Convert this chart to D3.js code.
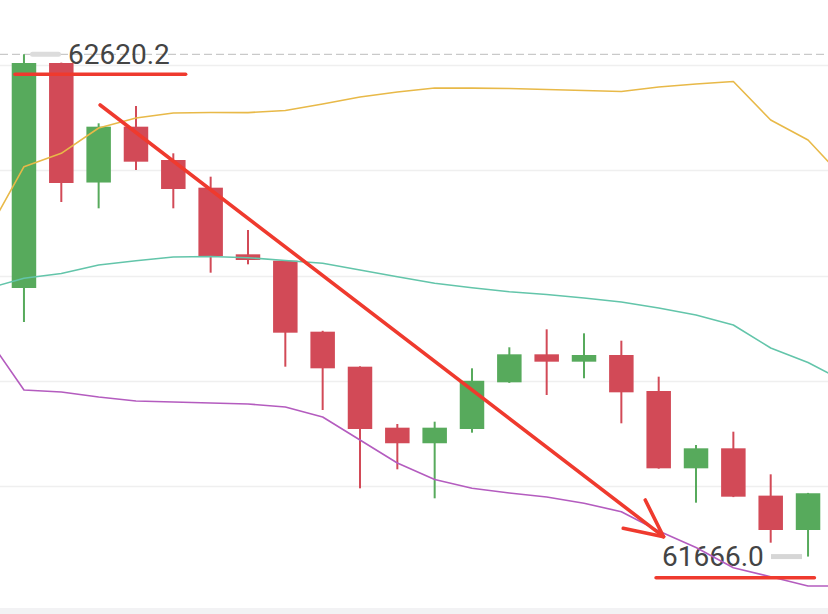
<!DOCTYPE html>
<html>
<head>
<meta charset="utf-8">
<script src="https://cdn.jsdelivr.net/npm/d3@7/dist/d3.min.js"></script>
<style>
  html, body { margin: 0; padding: 0; background: #ffffff; }
  svg { display: block; }
</style>
</head>
<body>
<svg id="chart" width="828" height="614"></svg>
<script>
// ---------- DATA ----------
const candleIds = d3.range(22).map(i => "K" + (i + 1));
const opens  = [62176.3, 62603.8, 62376.7, 62482.8, 62419.5, 62366.9, 62240.3, 62228.2, 62093.3, 62026.8, 61910.9,
                61881.3, 61908.4, 61997.1, 62050.3, 62036.3, 62049.0, 61980.6, 61833.7, 61871.7, 61781.8, 61716.5];
const highs  = [62620.2, 62604.5, 62489.2, 62522.1, 62432.2, 62387.8, 62286.5, 62229.0, 62095.0, 62027.5, 61917.9,
                61922.3, 62023.7, 62063.6, 62097.8, 62090.2, 62076.2, 62007.8, 61878.0, 61903.3, 61822.3, 61787.0];
const lows   = [62111.7, 62339.7, 62327.7, 62400.5, 62327.7, 62205.4, 62221.3, 62026.8, 61944.5, 61795.7, 61831.8,
                61776.7, 61901.4, 61996.0, 61973.0, 62004.8, 61919.2, 61833.0, 61768.4, 61779.0, 61692.4, 61666.0];
const closes = [62603.8, 62375.8, 62482.8, 62416.3, 62364.4, 62237.1, 62229.5, 62091.4, 62023.7, 61908.4, 61881.3,
                61910.9, 62000.0, 62050.3, 62036.3, 62049.0, 61978.1, 61833.7, 61871.7, 61779.8, 61716.5, 61786.3];

// Bollinger bands, index -1 .. 22 (one period before the first visible candle, one after the last)
const bandStartIndex = -1;
const upperBand  = [62278.9, 62406.8, 62432.2, 62480.3, 62499.3, 62508.8, 62509.8, 62509.5, 62513.6, 62525.9, 62539.2, 62548.7,
                    62556.3, 62556.0, 62555.4, 62553.5, 62551.6, 62549.7, 62558.2, 62563.9, 62568.7, 62495.5, 62457.5, 62381.5];
const middleBand = [62175.0, 62194.7, 62203.8, 62220.0, 62228.2, 62235.2, 62236.1, 62233.9, 62228.5, 62223.2, 62210.5, 62197.8,
                    62185.2, 62176.9, 62169.3, 62163.9, 62157.3, 62149.7, 62138.3, 62125.0, 62106.0, 62062.3, 62034.8, 61997.7];
const lowerBand  = [62085.1, 61982.5, 61978.7, 61969.2, 61961.6, 61959.7, 61957.8, 61955.9, 61950.2, 61931.2, 61887.5, 61843.8,
                    61812.4, 61795.7, 61786.8, 61779.2, 61767.2, 61751.3, 61714.6, 61683.2, 61644.9, 61627.8, 61610.1, 61610.1];

const gridTicks = [62600, 62400, 62200, 62000, 61800];
const highLabel = "62620.2";
const lowLabel  = "61666.0";
const highValue = 62620.2;
const lowValue  = 61666.0;

// Hand-drawn annotations, in (candle index, price) units
const topMark    = [[-0.24, 62582.3], [4.33, 62582.3]];
const bottomMark = [[16.93, 61625.9], [21.17, 61625.9]];
const arrowLine  = [[2.04, 62524.0], [17.13, 61703.8]];
const arrowArmA  = [[16.64, 61773.5], [17.13, 61703.8]];
const arrowArmB  = [[16.05, 61719.7], [17.13, 61703.8]];

// ---------- STYLES ----------
const W = 828, H = 614;
const UP = "#57aa5c", DOWN = "#d24a57";
const C_UPPER = "#e8b948", C_MID = "#63c5aa", C_LOW = "#b45cbf";
const C_ANNOT = "#ef3a2e";

const svg = d3.select("#chart");

// ---------- SCALES ----------
const x = d3.scaleBand().domain(candleIds).range([5.3, 826.7]).paddingInner(0.344).paddingOuter(0.172);
const xi = d3.scaleLinear().domain([0, 21]).range([x(candleIds[0]) + x.bandwidth() / 2, x(candleIds[21]) + x.bandwidth() / 2]);
const y = d3.scaleLinear().domain([61600, 62600]).range([65 + 1000 / 1.9, 65]);

// ---------- GRID ----------
svg.append("g").selectAll("line").data(gridTicks).join("line")
  .attr("x1", 0).attr("x2", W)
  .attr("y1", d => Math.round(y(d)) + 0.5).attr("y2", d => Math.round(y(d)) + 0.5)
  .attr("stroke", "#efefef").attr("stroke-width", 1.5);

// bottom band
svg.append("rect").attr("x", 0).attr("y", 608).attr("width", W).attr("height", H - 608).attr("fill", "#f2f2f4");

// dashed high line
svg.append("line")
  .attr("x1", 0).attr("x2", W).attr("y1", y(highValue)).attr("y2", y(highValue))
  .attr("stroke", "#c9c9c9").attr("stroke-width", 1.2).attr("stroke-dasharray", "8,4");

// ---------- CANDLES ----------
const candles = candleIds.map((id, i) => ({ id, o: opens[i], h: highs[i], l: lows[i], c: closes[i] }));
const g = svg.append("g");
g.selectAll("line.wick").data(candles).join("line").attr("class", "wick")
  .attr("x1", d => x(d.id) + x.bandwidth() / 2).attr("x2", d => x(d.id) + x.bandwidth() / 2)
  .attr("y1", d => y(d.h)).attr("y2", d => y(d.l))
  .attr("stroke", d => d.c >= d.o ? UP : DOWN).attr("stroke-width", 2);
g.selectAll("rect.body").data(candles).join("rect").attr("class", "body")
  .attr("x", d => x(d.id)).attr("width", x.bandwidth())
  .attr("y", d => y(Math.max(d.o, d.c)))
  .attr("height", d => Math.max(2, Math.abs(y(d.o) - y(d.c))))
  .attr("fill", d => d.c >= d.o ? UP : DOWN);

// ---------- LABELS ----------
const labelFont = "Roboto, 'Liberation Sans', Arial, sans-serif";
// small marker pill at the high
svg.append("rect").attr("x", 30).attr("y", y(highValue) - 2.5).attr("width", 31).attr("height", 5)
  .attr("rx", 2.5).attr("fill", "#dcdcdc");
svg.append("text").attr("x", 68).attr("y", 64).text(highLabel)
  .attr("font-family", labelFont).attr("font-size", 28).attr("fill", "#444");
// low label and marker
svg.append("text").attr("x", 662).attr("y", 566).text(lowLabel)
  .attr("font-family", labelFont).attr("font-size", 28).attr("fill", "#444");
svg.append("rect").attr("x", 771).attr("y", y(lowValue) - 2.5).attr("width", 31).attr("height", 5)
  .attr("fill", "#d6d6d6");

// ---------- BANDS ----------
const bandLine = d3.line().x((d, i) => xi(i + bandStartIndex)).y(d => y(d));
[[upperBand, C_UPPER], [middleBand, C_MID], [lowerBand, C_LOW]].forEach(([arr, col]) => {
  svg.append("path").datum(arr).attr("d", bandLine)
    .attr("fill", "none").attr("stroke", col).attr("stroke-width", 1.6).attr("stroke-linejoin", "round");
});

// ---------- ANNOTATIONS ----------
const annLine = d3.line().x(d => xi(d[0])).y(d => y(d[1]));
[topMark, bottomMark, arrowLine, arrowArmA, arrowArmB].forEach(seg => {
  svg.append("path").datum(seg).attr("d", annLine)
    .attr("fill", "none").attr("stroke", C_ANNOT).attr("stroke-width", 3.6).attr("stroke-linecap", "round");
});
</script>
</body>
</html>
